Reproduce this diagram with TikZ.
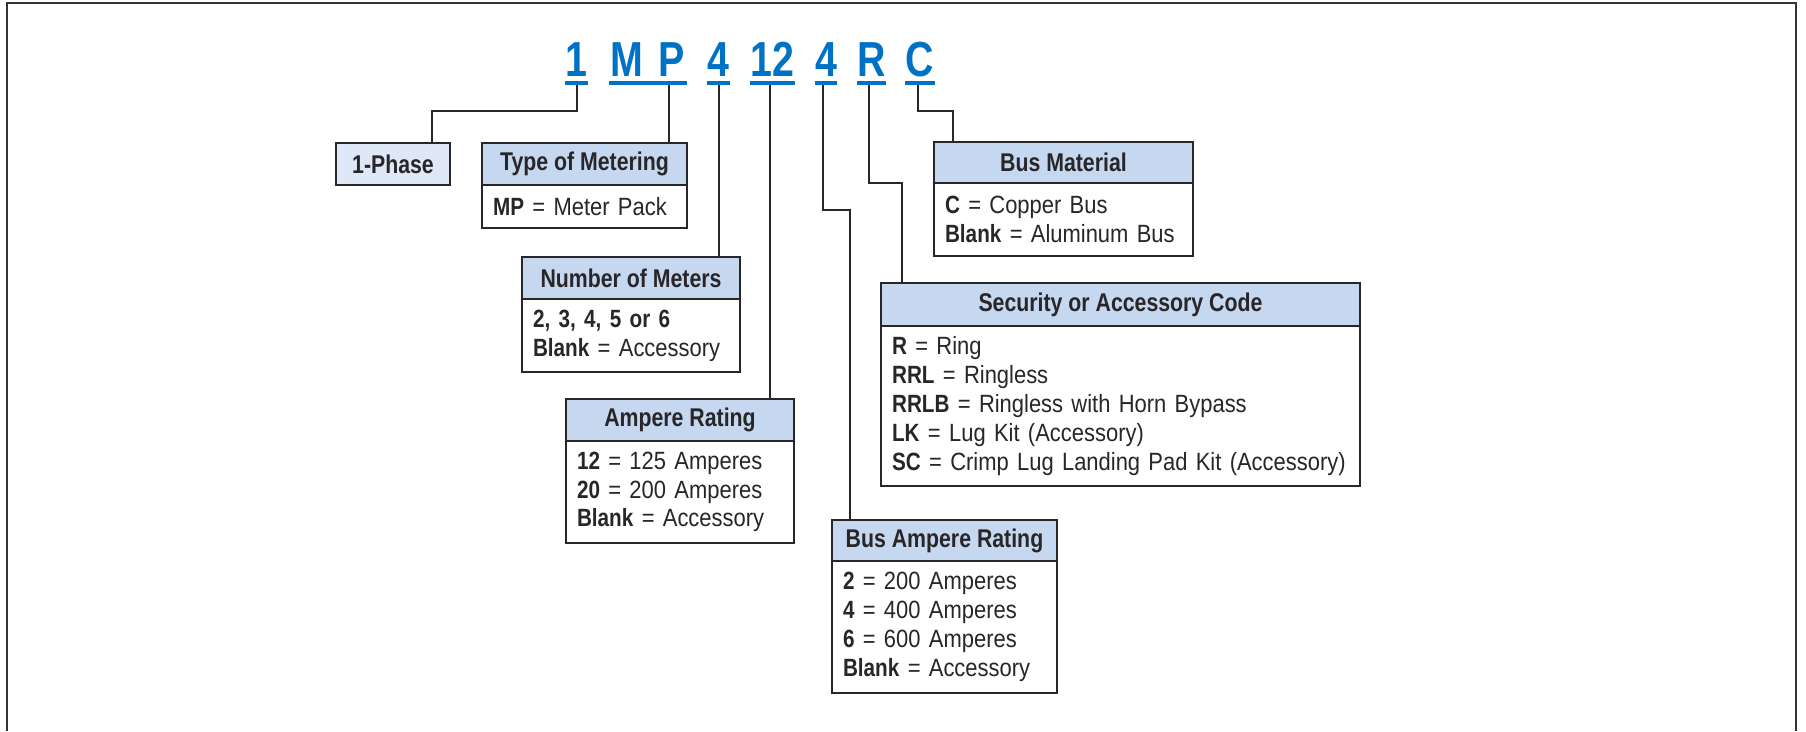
\documentclass[tikz,border=0pt]{standalone}
\usepackage{fontspec}
\setmainfont{Liberation Sans}[FakeStretch=0.88, BoldFeatures={FakeStretch=0.83}]
\newfontfamily\codefont{Liberation Sans}[FakeStretch=0.8]
\usetikzlibrary{positioning,calc}
\definecolor{codecolor}{RGB}{0,114,198}
\definecolor{headcolor}{RGB}{198,216,240}
\definecolor{lightcolor}{RGB}{222,232,246}
\definecolor{linecolor}{RGB}{40,38,40}

\begin{document}
\begin{tikzpicture}[x=0.02cm, y=-0.02cm,
    every node/.style={font=\fontsize{14.2}{16.4}\selectfont, text=linecolor},
    hd/.style={draw=linecolor, line width=0.04cm, fill=headcolor, outer sep=0pt,
      inner sep=0pt, minimum height=0.84cm, font=\fontsize{14.6}{16}\selectfont\bfseries},
    bd/.style={draw=linecolor, line width=0.04cm, fill=white, outer sep=0pt,
      inner xsep=0.22cm, inner ysep=0pt, align=left, below=0pt of #1},
    code/.style={font=\codefont\fontsize{28}{28}\selectfont\bfseries, text=codecolor,
      anchor=base, inner sep=0pt},
    conn/.style={draw=linecolor, line width=0.04cm},
    uline/.style={draw=codecolor, line width=0.08cm}]
  \useasboundingbox (0,0) rectangle (1806,731);

  % outer frame (open at the bottom)
  \draw[draw=black!80, line width=0.05cm] (7,731) -- (7,3) -- (1796,3) -- (1796,731);

  % catalog number
  \node[code, minimum width=0.42cm] (d1)  at (576.5,76) {1};
  \node[code, minimum width=1.56cm] (dMP) at (648,76)   {M\hspace{0.3cm}P};
  \node[code, minimum width=0.42cm] (d4)  at (718.5,76) {4};
  \node[code, minimum width=0.86cm] (d12) at (772.5,76) {12};
  \node[code, minimum width=0.44cm] (d4b) at (826,76)   {4};
  \node[code, minimum width=0.54cm] (dR)  at (871.5,76) {R};
  \node[code, minimum width=0.52cm] (dC)  at (920,76)   {C};

  \coordinate (c1)  at ($(d1.base)+(0,8)$);
  \coordinate (cMP) at ($(dMP.base)+(21,8)$);
  \coordinate (c4)  at ($(d4.base)+(0.5,8)$);
  \coordinate (c12) at ($(d12.base)+(-2.5,8)$);
  \coordinate (c4b) at ($(d4b.base)+(-3,8)$);
  \coordinate (cR)  at ($(dR.base)+(-2.5,8)$);
  \coordinate (cC)  at ($(dC.base)+(-2,8)$);

  % phase
  \node[hd, fill=lightcolor, minimum width=2.28cm] (phase) at (393,164) {1-Phase};

  % type of metering
  \node[hd, minimum width=4.1cm] (meterhd) at (584.5,164) {Type of Metering};
  \node[bd=meterhd, text width=3.66cm, minimum height=0.86cm] (meterbd)
    {\textbf{MP} = Meter Pack};

  % number of meters
  \node[hd, minimum width=4.36cm] (numhd) at (631,278) {Number of Meters};
  \node[bd=numhd, text width=3.92cm, minimum height=1.46cm] (numbd)
    {\textbf{2, 3, 4, 5 or 6}\\\textbf{Blank} = Accessory};

  % ampere rating
  \node[hd, minimum width=4.56cm] (amphd) at (680,420) {Ampere Rating};
  \node[bd=amphd, text width=4.12cm, minimum height=2.04cm] (ampbd)
    {\textbf{12} = 125 Amperes\\\textbf{20} = 200 Amperes\\\textbf{Blank} = Accessory};

  % bus ampere rating
  \node[hd, minimum width=4.5cm, minimum height=0.82cm] (busamphd) at (944.5,540.5) {Bus Ampere Rating};
  \node[bd=busamphd, text width=4.06cm, minimum height=2.64cm] (busampbd)
    {\textbf{2} = 200 Amperes\\\textbf{4} = 400 Amperes\\\textbf{6} = 600 Amperes\\\textbf{Blank} = Accessory};

  % security or accessory code
  \node[hd, minimum width=9.58cm, minimum height=0.86cm] (sechd) at (1120.5,304.5) {Security or Accessory Code};
  \node[bd=sechd, text width=9.14cm, minimum height=3.2cm] (secbd)
    {\textbf{R} = Ring\\\textbf{RRL} = Ringless\\\textbf{RRLB} = Ringless with Horn Bypass\\
     \textbf{LK} = Lug Kit (Accessory)\\\textbf{SC} = Crimp Lug Landing Pad Kit (Accessory)};

  % bus material
  \node[hd, minimum width=5.18cm, minimum height=0.82cm] (mathd) at (1063.5,162.5) {Bus Material};
  \node[bd=mathd, text width=4.74cm, minimum height=1.46cm] (matbd)
    {\textbf{C} = Copper Bus\\\textbf{Blank} = Aluminum Bus};

  % connectors
  \draw[conn] (c1) -- ++(0,27) -| ($(phase.north)+(39,0)$);
  \draw[conn] (cMP) -- (cMP |- meterhd.north);
  \draw[conn] (c4) -- (c4 |- numhd.north);
  \draw[conn] (c12) -- (c12 |- amphd.north);
  \draw[conn] (c4b) -- ++(0,126) -| ($(busamphd.north)+(-94.5,0)$);
  \draw[conn] (cR) -- ++(0,99) -| ($(sechd.north)+(-218.5,0)$);
  \draw[conn] (cC) -- ++(0,27) -| ($(mathd.north)+(-110.5,0)$);

  % underlines
  \foreach \n in {d1,dMP,d4,d12,d4b,dR,dC}
    \draw[uline] ($(\n.base west)+(0,7)$) -- ($(\n.base east)+(0,7)$);
\end{tikzpicture}
\end{document}
